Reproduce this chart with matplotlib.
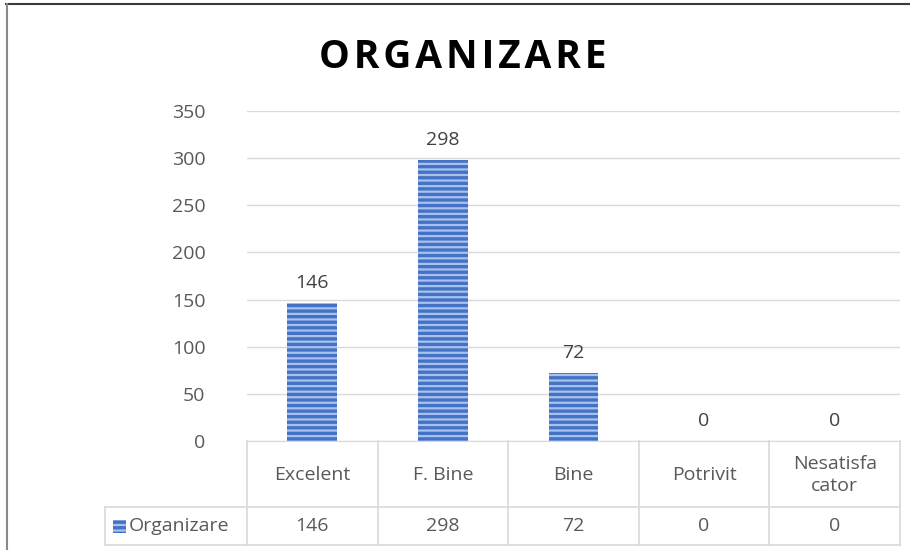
import numpy as np
import matplotlib
matplotlib.use("Agg")
import matplotlib.pyplot as plt
from matplotlib.lines import Line2D
from matplotlib.patches import Rectangle

#Data
categories = ["Excelent", "F. Bine", "Bine", "Potrivit", "Nesatisfa\ncator"]
values = [146, 298, 72, 0, 0]
series_name = "Organizare"
title = "ORGANIZARE"
yticks = [0, 50, 100, 150, 200, 250, 300, 350]

W, H = 910, 550
plt.rcParams['font.family'] = ['Open Sans', 'DejaVu Sans']
plt.rcParams['hatch.linewidth'] = 1.6

fig = plt.figure(figsize=(W / 100, H / 100), dpi=100)

def fx(px):
    return px / W

def fy(py):
    return 1 - py / H

fs = 14
tc = "#595959"

#Plot area
x0, x1, ytop, ybot = 247, 900, 111, 441
ax = fig.add_axes([fx(x0), fy(ybot), fx(x1) - fx(x0), fy(ytop) - fy(ybot)])
x = np.arange(len(categories))
bars = ax.bar(x, values, width=0.38, color="#4472C4", edgecolor="#a8c1ee",
              hatch="---", linewidth=0, zorder=3)
ax.set_xlim(-0.5, len(categories) - 0.5)
ax.set_ylim(0, 350)
ax.set_yticks(yticks)
ax.set_xticks([])
ax.grid(axis="y", color="#d9d9d9", linewidth=1, zorder=0)
for s in ["top", "right", "left"]:
    ax.spines[s].set_visible(False)
ax.spines["bottom"].set_color("#d9d9d9")
ax.tick_params(axis="y", length=0, labelsize=fs, labelcolor=tc, pad=30)

for xi, v in zip(x, values):
    ax.annotate(str(v), (xi, v), xytext=(0, 8), textcoords="offset points",
                ha="center", va="bottom", fontsize=fs, color="#404040")

#Title (spaced letters)
fig.text(fx(463), fy(57), "\u200a".join(title), ha="center", va="center",
         fontsize=28, fontweight="bold", color="#000000")

#Data table
lc = "#d9d9d9"
colw = (x1 - x0) / len(categories)
r0, r1, r2 = 441, 507, 545
lines = []
for i in range(len(categories) + 1):
    xx = x0 + i * colw
    lines.append(([xx, xx], [r0, r2]))
lines.append(([105, 105], [r1, r2]))
lines.append(([105, x1], [r1, r1]))
lines.append(([105, x1], [r2, r2]))
for xs, ys in lines:
    fig.add_artist(Line2D([fx(v) for v in xs], [fy(v) for v in ys],
                          color=lc, linewidth=1.2))

for i, (c, v) in enumerate(zip(categories, values)):
    cx = x0 + (i + 0.5) * colw
    fig.text(fx(cx), fy((r0 + r1) / 2 + 1), c, ha="center", va="center",
             fontsize=fs, color=tc, linespacing=1.35)
    fig.text(fx(cx), fy((r1 + r2) / 2), str(v), ha="center", va="center",
             fontsize=fs, color=tc)

#Legend key
fig.add_artist(Rectangle((fx(113), fy(533)), fx(13), fy(520) - fy(533),
                         facecolor="#4472C4", edgecolor="#a8c1ee", hatch="---",
                         linewidth=0))
fig.text(fx(129), fy(526), series_name, ha="left", va="center",
         fontsize=fs, color=tc)

#Chart border
fig.add_artist(Line2D([fx(6), 1], [fy(4), fy(4)], color="#3a3a3a", linewidth=1.5))
fig.add_artist(Line2D([fx(6.5), fx(6.5)], [fy(4), 0], color="#8a8a8a", linewidth=1.5))

fig.savefig("out.png", dpi=100)
